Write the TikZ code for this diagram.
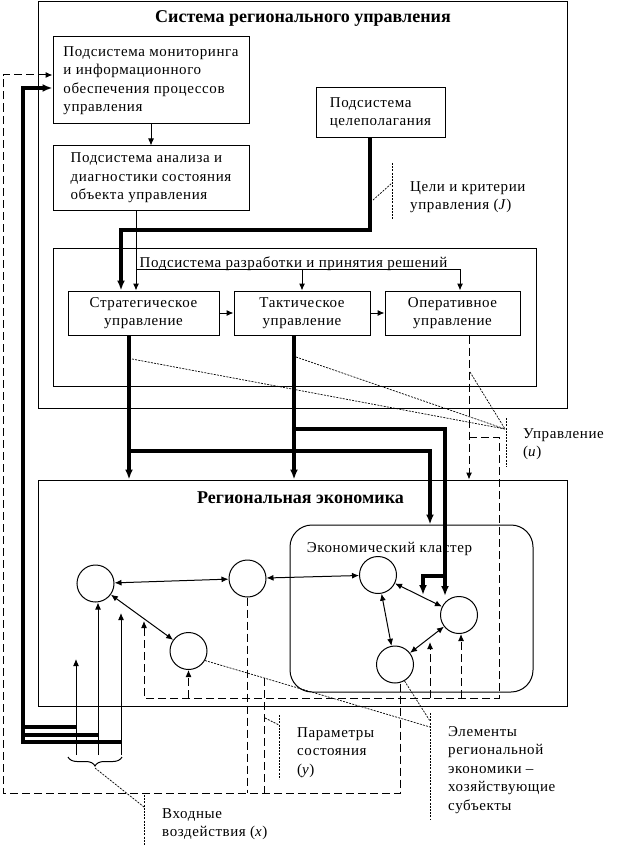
\documentclass[tikz,border=0pt]{standalone}
\usepackage{fontspec}
\setmainfont{Liberation Serif}
\newfontfamily\bodyface{Liberation Serif}[LetterSpace=4]
\usetikzlibrary{arrows.meta,decorations.pathreplacing}

\newcommand{\diagtext}{\bodyface\fontsize{15}{18.5}\selectfont}
\newcommand{\diaghead}{\fontsize{18}{22}\selectfont\bfseries}

\begin{document}
\begin{tikzpicture}[x=1pt, y=-1pt]
    % Basic styles
    \tikzset{
        frame/.style={draw, line width=1pt, inner sep=0pt},
        unit/.style={draw, line width=1pt, minimum height=44pt, align=center, font=\diagtext},
        sub/.style={unit, align=left},
        elem/.style={circle, draw, line width=1pt, minimum size=37pt, inner sep=0pt},
        note/.style={anchor=north west, align=left, inner sep=0pt, font=\diagtext},
        head/.style={anchor=base, inner sep=0pt, font=\diaghead},
        arr/.style={line width=1pt, -{Latex[length=7pt, width=6pt]}},
        twoway/.style={line width=1pt, {Latex[length=7pt, width=6pt]}-{Latex[length=7pt, width=6pt]}},
        heavy/.style={line width=4.5pt},
        heavyarr/.style={heavy, -{Latex[length=10pt, width=8pt]}},
        fb/.style={line width=1pt, dash pattern=on 8pt off 4pt},
        fbarr/.style={fb, -{Latex[length=7pt, width=6pt]}},
        lead/.style={line width=0.7pt, dash pattern=on 2pt off 1.2pt}
    }
    \useasboundingbox (0,0) rectangle (627,845);

    % Regional management system
    \node[frame, minimum width=529pt, minimum height=406pt] (sys) at (302.5,205) {};
    \node[head] (systitle) at (303,23) {Система регионального управления};
    \node[sub, minimum width=196pt, minimum height=87pt] (mon) at (151,80.5) {Подсистема мониторинга\\и информационного\\обеспечения процессов\\управления};
    \node[sub, minimum width=196pt, minimum height=64pt] (anl) at (151,178) {Подсистема анализа и\\диагностики состояния\\объекта управления};
    \node[sub, minimum width=129pt, minimum height=50pt] (goal) at (380.5,113) {Подсистема\\целеполагания};

    % Decision subsystem
    \node[frame, minimum width=483pt, minimum height=138pt] (dec) at (294.5,317) {};
    \node[head, font=\diagtext] (dectitle) at (293.5,267) {Подсистема разработки и принятия решений};
    \node[unit, minimum width=151pt] (strat) at (143.5,313) {Стратегическое\\управление};
    \node[unit, minimum width=136pt] (tact) at (302,313) {Тактическое\\управление};
    \node[unit, minimum width=135pt] (oper) at (452.5,313) {Оперативное\\управление};

    % Regional economy
    \node[frame, minimum width=529pt, minimum height=226pt] (econ) at (302.5,593) {};
    \node[head] (econtitle) at (300.5,503) {Региональная экономика};
    \node[frame, rounded corners=22pt, minimum width=243pt, minimum height=167pt] (clus) at (411.5,608.5) {};
    \node[head, font=\diagtext] (clustitle) at (389.5,552) {Экономический кластер};

    % Economic agents
    \node[elem] (agA) at (95.5,583.5) {};
    \node[elem] (agB) at (188.5,651) {};
    \node[elem] (agD) at (247.5,578.5) {};
    \node[elem] (cl1) at (378,575) {};
    \node[elem] (cl2) at (459,615) {};
    \node[elem] (cl3) at (395,664.5) {};

    % Links between agents
    \draw[twoway] (agA) -- (agD);
    \draw[twoway] (agD) -- (cl1);
    \draw[twoway] (agA) -- (agB);
    \draw[twoway] (cl1) -- (cl2);
    \draw[twoway] (cl1) -- (cl3);
    \draw[twoway] (cl2) -- (cl3);

    % Information flows inside the management system
    \draw[arr] (mon) -- (anl);
    \coordinate (fork) at (136,269);
    \draw[line width=1pt] (anl.south -| fork) -- (fork);
    \draw[arr] (fork) -- (fork |- strat.north);
    \draw[arr] (fork) -| (tact.north);
    \draw[arr] (fork) -| ([xshift=7.5pt]oper.north);
    \draw[arr] (strat) -- (tact);
    \draw[arr] (tact) -- (oper);

    % Goals and criteria
    \coordinate (goalbend) at (121,230);
    \draw[heavyarr] ([xshift=-10.5pt]goal.south) |- (goalbend) -- (goalbend |- strat.north);

    % Control actions
    \draw[heavyarr] ([xshift=-14.5pt]strat.south) -- ([xshift=-14.5pt]strat.south |- econ.north);
    \draw[heavyarr] ([xshift=-8pt]tact.south) -- ([xshift=-8pt]tact.south |- econ.north);
    \coordinate (sbr) at (129,451);
    \coordinate (tbr) at (294,429);
    \coordinate (cbr) at (445,576);
    \coordinate (hit12) at (423,595);
    \draw[heavyarr] (sbr) -| ([xshift=18.5pt]clus.north);
    \draw[heavyarr] (tbr) -| ([xshift=-14pt]cl2.north);
    \draw[heavyarr] (cbr) -| (hit12);

    % Operational control (dashed)
    \draw[fbarr] ([xshift=16.5pt]oper.south) -- ([xshift=16.5pt]oper.south |- econ.north);
    \coordinate (obr) at (469,437);
    \coordinate (fbr) at (499,698);
    \coordinate (fbl) at (144,698);
    \coordinate (hitAB) at (144,621);
    \coordinate (hit23) at (430,642);
    \draw[fbarr] (obr) -| (fbr) -- (fbl) -- (hitAB);
    \draw[fbarr] (fbl -| agB.south) -- (agB.south);
    \draw[fbarr] (fbl -| hit23) -- (hit23);
    \draw[fbarr] ([xshift=2pt]fbl -| cl2.south) -- ([xshift=2pt]cl2.south);

    % Input actions
    \coordinate (xin) at (23,742);
    \coordinate (in1) at (76,755);
    \coordinate (in2) at (98,755);
    \coordinate (in3) at (121,755);
    \coordinate (j1) at (76,727);
    \coordinate (j2) at (98,735);
    \coordinate (hitA) at (76,659);
    \coordinate (hitA2) at (121,613);
    \draw[heavyarr] (in3 |- xin) -- (xin) |- ([yshift=-7.5pt]mon.west);
    \draw[heavy] (j1 -| xin) -- (j1);
    \draw[heavy] (j2 -| xin) -- (j2);
    \draw[arr] (in1) -- (hitA);
    \draw[arr] (in2) -- (in2 |- agA.south);
    \draw[arr] (in3) -- (hitA2);

    % State parameters back to monitoring
    \coordinate (fdl) at (3,793);
    \coordinate (ys) at (264,678);
    \draw[fbarr] ([xshift=5pt]cl3.south) -- ([xshift=5pt]cl3.south |- fdl) -- (fdl) |- ([yshift=5.5pt]mon.west);
    \draw[fb] (agD.south) -- (agD.south |- fdl);
    \draw[fb] (ys) -- (ys |- fdl);

    % Brace under the inputs
    \coordinate (brR) at (122,757);
    \coordinate (brL) at (68,757);
    \coordinate (brtip) at (95,768);
    \draw[line width=1pt, decorate, decoration={brace, amplitude=9pt}] (brR) -- (brL);

    % Annotations
    \coordinate (jt) at (392,163);
    \coordinate (jb) at (392,220);
    \coordinate (jm) at (392,183);
    \coordinate (js) at (373,200);
    \draw[lead] (jt) -- (jb);
    \draw[lead] (js) -- (jm);
    \node[note] (jlab) at (410,181) {Цели и критерии\\управления (\textit{J})};

    \coordinate (ut) at (506,418);
    \coordinate (ub) at (506,467);
    \coordinate (um) at (505,429);
    \coordinate (u1) at (132,359);
    \coordinate (u2) at (296,357);
    \coordinate (u3) at (470,372);
    \draw[lead] (ut) -- (ub);
    \draw[lead] (u1) -- (um);
    \draw[lead] (u2) -- (um);
    \draw[lead] (u3) -- (um);
    \node[note] (ulab) at (523,428) {Управление\\(\textit{u})};

    \coordinate (yt) at (279,715);
    \coordinate (yb) at (279,779);
    \coordinate (ym) at (279,725);
    \coordinate (yp) at (265,718);
    \draw[lead] (yt) -- (yb);
    \draw[lead] (yp) -- (ym);
    \node[note] (ylab) at (297,727) {Параметры\\состояния\\(\textit{y})};

    \coordinate (et) at (430,713);
    \coordinate (eb) at (430,820);
    \coordinate (em) at (430,721);
    \coordinate (em2) at (430,727);
    \draw[lead] (et) -- (eb);
    \draw[lead] (agB.-30) -- (em2);
    \draw[lead] (cl3.-60) -- (em);
    \node[note] (elab) at (448,726) {Элементы\\региональной\\экономики –\\хозяйствующие\\субъекты};

    \coordinate (xt) at (144,795);
    \coordinate (xb) at (144,845);
    \coordinate (xm) at (144,807);
    \draw[lead] (xt) -- (xb);
    \draw[lead] (brtip) -- (xm);
    \node[note] (xlab) at (162,808) {Входные\\воздействия (\textit{x})};
\end{tikzpicture}
\end{document}
